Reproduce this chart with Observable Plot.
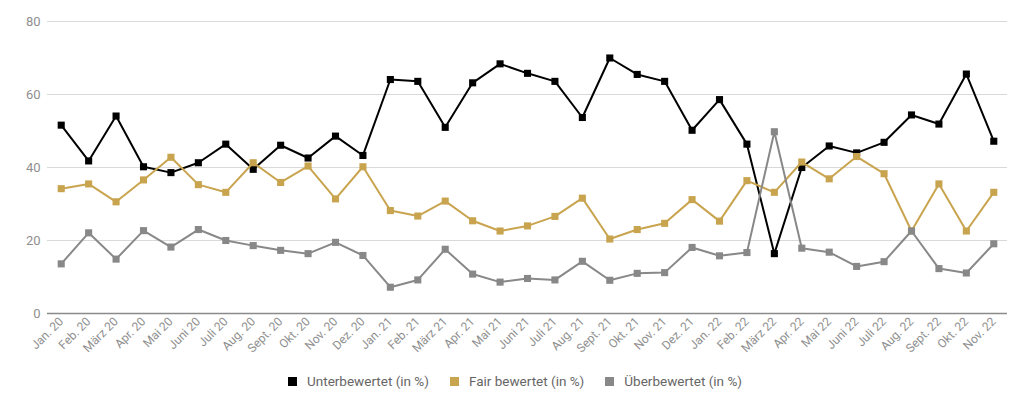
<!DOCTYPE html>
<html>
<head>
<meta charset="utf-8">
<script src="https://cdn.jsdelivr.net/npm/d3@7"></script>
<script src="https://cdn.jsdelivr.net/npm/@observablehq/plot@0.6"></script>
<style>
  html, body { margin: 0; padding: 0; background: #fff; }
  body { width: 1024px; height: 407px; overflow: hidden; font-family: Roboto, sans-serif; }
  #legend { display: flex; justify-content: center; align-items: center; gap: 21px; font-size: 13.5px; color: #666; height: 22px; margin-top: 10px; padding-left: 6px; }
  #legend span.item { display: inline-flex; align-items: center; }
  #legend i { display: inline-block; width: 9px; height: 9px; margin-right: 10px; }
</style>
</head>
<body>
<div id="chart"></div>
<div id="legend"></div>
<script>
const months = ["Jan. 20","Feb. 20","März 20","Apr. 20","Mai 20","Juni 20","Juli 20","Aug. 20","Sept. 20","Okt. 20","Nov. 20","Dez. 20",
  "Jan. 21","Feb. 21","März 21","Apr. 21","Mai 21","Juni 21","Juli 21","Aug. 21","Sept. 21","Okt. 21","Nov. 21","Dez. 21",
  "Jan. 22","Feb. 22","März 22","Apr. 22","Mai 22","Juni 22","Juli 22","Aug. 22","Sept. 22","Okt. 22","Nov. 22"];
const unterbewertet = [51.6,41.8,54.1,40.2,38.6,41.3,46.4,39.5,46.1,42.6,48.6,43.3,
  64.1,63.6,51.0,63.2,68.4,65.8,63.6,53.7,70.0,65.5,63.6,50.2,
  58.6,46.4,16.4,40.0,45.9,44.0,46.9,54.4,51.9,65.6,47.2];
const fairBewertet = [34.2,35.5,30.6,36.6,42.8,35.3,33.2,41.3,35.9,40.4,31.4,40.2,
  28.2,26.7,30.8,25.4,22.6,24.0,26.6,31.6,20.4,23.0,24.7,31.2,
  25.3,36.4,33.2,41.5,36.9,43.0,38.3,22.6,35.5,22.6,33.2];
const ueberbewertet = [13.6,22.1,14.9,22.7,18.2,23.0,20.0,18.6,17.3,16.4,19.5,15.9,
  7.2,9.2,17.6,10.8,8.6,9.6,9.2,14.3,9.1,11.0,11.2,18.1,
  15.8,16.7,49.8,17.9,16.8,12.9,14.2,22.6,12.3,11.1,19.1];
const seriesNames = ["Unterbewertet (in %)","Fair bewertet (in %)","Überbewertet (in %)"];
const seriesColors = ["#000000","#c9a44f","#888888"];
const yTicks = [0,20,40,60,80];

const allSeries = [unterbewertet, fairBewertet, ueberbewertet];
const data = [];
allSeries.forEach((vals, s) => vals.forEach((v, i) => data.push({month: months[i], value: v, series: seriesNames[s]})));

const marks = [
  Plot.gridY(yTicks, {stroke: "#d9d9d9", strokeOpacity: 1, strokeWidth: 1}),
  Plot.ruleY([0], {stroke: "#8a8a8a", strokeWidth: 1.5}),
  Plot.axisY({ticks: yTicks, tickSize: 0, tickPadding: 7, fill: "#8f8f8f", fontSize: 13, label: null}),
  Plot.axisX({tickRotate: -45, tickSize: 0, tickPadding: 6, fill: "#8f8f8f", fontSize: 12, label: null})
];
seriesNames.forEach((name, s) => {
  const d = data.filter(r => r.series === name);
  marks.push(Plot.line(d, {x: "month", y: "value", stroke: seriesColors[s], strokeWidth: 2}));
  marks.push(Plot.dot(d, {x: "month", y: "value", symbol: "square", r: 4, fill: seriesColors[s], stroke: null}));
});

const chart = Plot.plot({
  width: 1024,
  height: 360,
  marginTop: 21,
  marginBottom: 47,
  marginLeft: 47,
  marginRight: 17,
  style: {fontFamily: "Roboto, sans-serif", background: "#fff"},
  x: {type: "point", domain: months, padding: 0.5, round: false},
  y: {domain: [0, 80]},
  marks
});
document.getElementById("chart").appendChild(chart);

const legend = document.getElementById("legend");
seriesNames.forEach((name, s) => {
  const item = document.createElement("span");
  item.className = "item";
  const sw = document.createElement("i");
  sw.style.background = seriesColors[s];
  item.appendChild(sw);
  item.appendChild(document.createTextNode(name));
  legend.appendChild(item);
});
</script>
</body>
</html>
